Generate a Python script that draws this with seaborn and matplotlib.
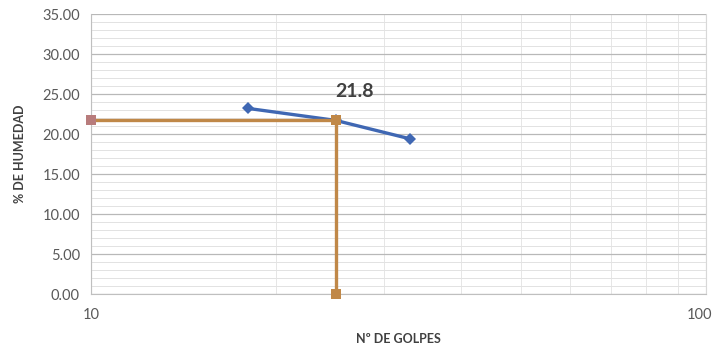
import matplotlib
matplotlib.use("Agg")
import matplotlib.pyplot as plt
from matplotlib.ticker import FixedLocator, NullFormatter
from matplotlib.transforms import ScaledTranslation
import seaborn as sns
import pandas as pd

# Ensayo de límite líquido: golpes vs. contenido de humedad
golpes = [18, 25, 33]
humedad = [23.2, 21.7, 19.4]

# Líneas guía para leer la humedad a 25 golpes
guia_x = [10, 25, 25]
guia_y = [21.8, 21.8, 0.0]

limite_liquido = 21.8
y_ticks = [0, 5, 10, 15, 20, 25, 30, 35]

sns.set_theme(style="white")
plt.rcParams["font.family"] = ["Lato", "DejaVu Sans"]

fig = plt.figure(figsize=(7.15, 3.47), dpi=100)
ax = fig.add_axes([91 / 715, 53 / 347, 615 / 715, 280 / 347])

ensayo = pd.DataFrame({"golpes": golpes, "humedad": humedad})
guia = pd.DataFrame({"x": guia_x, "y": guia_y})

sns.lineplot(data=ensayo, x="golpes", y="humedad", sort=False, estimator=None,
             ax=ax, color="#3F67B3", linewidth=2.4, marker="D", markersize=6.5,
             markeredgewidth=0, zorder=3)
sns.lineplot(data=guia, x="x", y="y", sort=False, estimator=None, ax=ax,
             color="#C08848", linewidth=2.4, marker="s", markersize=7.5,
             markeredgewidth=0, zorder=4)
# el primer punto de la guía lleva un tono rosado
ax.plot([guia_x[0]], [guia_y[0]], marker="s", markersize=7.5, color="#B87C7C",
        markeredgewidth=0, zorder=5)
# los marcadores sobre los bordes se dibujan completos
for line in ax.lines:
    line.set_clip_on(False)

ax.set_xscale("log")
ax.set_xlim(10, 100)
ax.set_ylim(0, 35)

ax.xaxis.set_major_locator(FixedLocator([10, 100]))
ax.xaxis.set_minor_locator(FixedLocator([20, 30, 40, 50, 60, 70, 80, 90]))
ax.xaxis.set_minor_formatter(NullFormatter())
ax.set_xticklabels(["10", "100"])
ax.set_yticks(y_ticks)
ax.set_yticklabels([f"{v:.2f}" for v in y_ticks])
ax.yaxis.set_minor_locator(FixedLocator([v for v in range(0, 36) if v % 5]))

ax.grid(which="major", axis="y", color="#B8B8B8", linewidth=0.9)
ax.grid(which="minor", axis="y", color="#E2E2E2", linewidth=0.7)
ax.grid(which="major", axis="x", color="#D8D8D8", linewidth=0.8)
ax.grid(which="minor", axis="x", color="#E6E6E6", linewidth=0.7)
ax.set_axisbelow(True)

ax.spines["top"].set_visible(False)
ax.spines["right"].set_color("#D8D8D8")
ax.spines["left"].set_color("#BFBFBF")
ax.spines["bottom"].set_color("#BFBFBF")
for side in ["right", "left", "bottom"]:
    ax.spines[side].set_linewidth(0.8)

ax.tick_params(axis="both", which="major", labelsize=10.5, colors="#595959",
               length=0, pad=8)
ax.tick_params(axis="x", which="major", pad=10)
ax.tick_params(which="minor", length=0)

# el rótulo "100" queda algo a la izquierda para no salirse del lienzo
fig.canvas.draw()
xlabels = ax.get_xticklabels()
xlabels[-1].set_transform(xlabels[-1].get_transform()
                          + ScaledTranslation(-5 / 72, 0, fig.dpi_scale_trans))

ax.set_xlabel("Nº DE GOLPES", fontsize=9, fontweight="bold", color="#404040",
              labelpad=8)
ax.set_ylabel("% DE HUMEDAD", fontsize=9, fontweight="bold", color="#404040",
              labelpad=12)

ax.text(25, 25.3, f"{limite_liquido:.1f}", fontsize=14, fontweight="bold",
        color="#404040", ha="left", va="center")

fig.savefig("out.png", dpi=100, facecolor="white")
